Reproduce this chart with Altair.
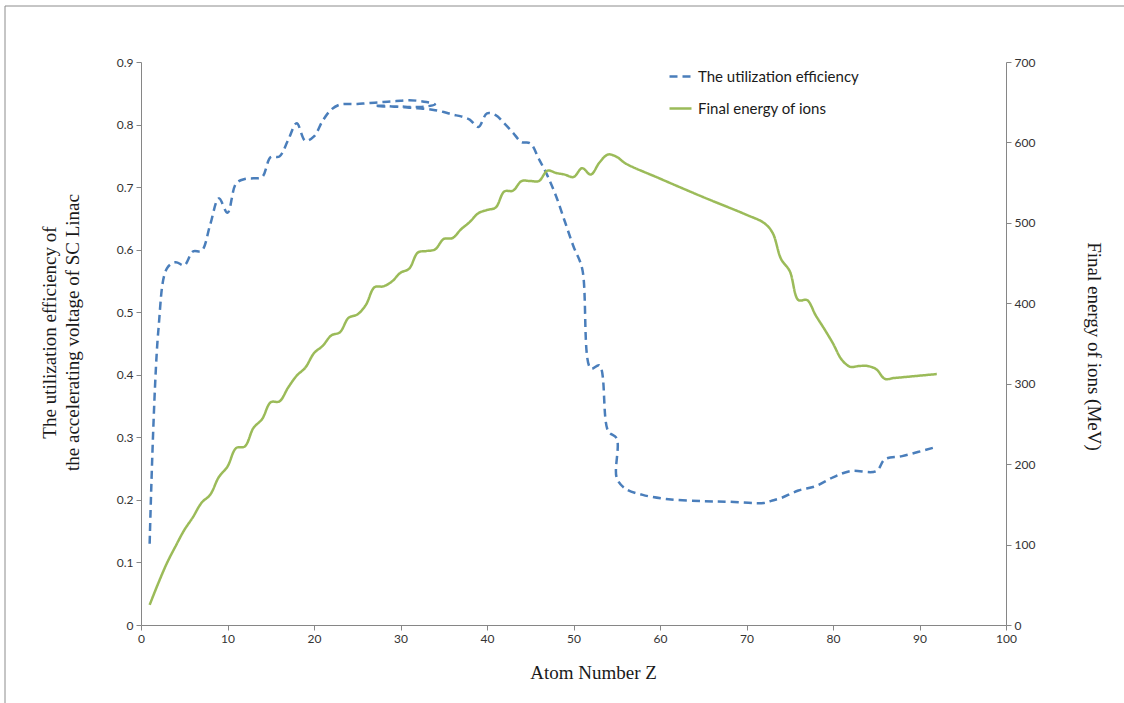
import altair as alt
import pandas as pd

# ---------------- data ----------------
eff_z = [1, 2, 3, 4, 5, 6, 7, 8, 9, 10, 11, 12, 13, 14, 15, 16, 17, 18, 19, 20,
         21, 22, 23, 24, 25, 26, 27, 28, 29, 30, 31, 32, 33, 34,
         33, 32, 31, 30, 29, 28, 27,
         28, 29, 30, 31, 32, 33, 34, 35, 36, 37, 38, 39, 40, 41, 42, 43, 44, 45,
         46, 47, 48, 49, 50, 51, 52, 53, 54, 55, 55, 56, 58, 61, 65, 68, 72, 73,
         74, 76, 78, 80, 82, 85, 86, 88, 92]
eff_val = [0.13, 0.47, 0.57, 0.58, 0.575, 0.597, 0.598, 0.64, 0.682, 0.659,
           0.706, 0.713, 0.714, 0.716, 0.748, 0.749, 0.775, 0.802, 0.774, 0.781,
           0.806, 0.824, 0.832, 0.833, 0.833, 0.834, 0.835, 0.836, 0.837, 0.838,
           0.839, 0.838, 0.836, 0.832,
           0.829, 0.828, 0.828, 0.829, 0.829, 0.830, 0.830,
           0.829, 0.829, 0.828, 0.827, 0.826, 0.825, 0.823, 0.82, 0.816, 0.813,
           0.808, 0.796, 0.818, 0.815, 0.802, 0.787, 0.772, 0.77,
           0.745, 0.718, 0.685, 0.645, 0.605, 0.57, 0.41, 0.415, 0.31, 0.298,
           0.235, 0.218, 0.208, 0.201, 0.198, 0.197, 0.195, 0.199,
           0.203, 0.215, 0.222, 0.236, 0.246, 0.246, 0.265, 0.27, 0.285]

energy_z = list(range(1, 57)) + [60, 65, 70, 72, 73, 74, 75, 76, 77, 78, 79, 80,
                                  81, 82, 83, 84, 85, 86, 87, 88, 92]
energy_val = [25, 52, 77, 98, 118, 134, 152, 162, 184, 197, 220, 222, 245, 256,
              277, 278, 295, 310, 320, 338, 347, 360, 364, 382, 386, 398, 420,
              421, 427, 438, 443, 463, 465, 467, 480, 481, 492, 501, 512, 516,
              519, 539, 540, 552, 552, 552, 565, 562, 560, 557, 568, 560, 575,
              585, 582, 574, 555, 532, 510, 500, 488, 455, 440, 404, 404, 385,
              368, 350, 330, 321, 322, 322, 318, 306, 307, 308, 312]

series_names = ["The utilization efficiency", "Final energy of ions"]
series_colors = ["#4A7EBB", "#9BBB59"]
series_dash = [[8, 5], [1, 0]]

x_ticks = list(range(0, 101, 10))
left_ticks = [0, 0.1, 0.2, 0.3, 0.4, 0.5, 0.6, 0.7, 0.8, 0.9]
right_ticks = list(range(0, 701, 100))

eff_df = pd.DataFrame({"Z": eff_z, "value": eff_val,
                       "order": list(range(len(eff_z))),
                       "series": series_names[0]})
en_df = pd.DataFrame({"Z": energy_z, "value": energy_val,
                      "order": list(range(len(energy_z))),
                      "series": series_names[1]})

W, H = 865, 563
serif = "Liberation Serif"
sans = "Lato"
axis_grey = "#868686"


def make_legend():
    return alt.Legend(title=None, orient="none", legendX=527, legendY=2,
                      symbolType="stroke", symbolSize=484,
                      symbolStrokeWidth=2.5, labelFont=sans, labelFontSize=15,
                      labelColor="#1a1a1a", rowPadding=11, labelOffset=5,
                      labelLimit=0)


color_enc = alt.Color("series:N",
                      scale=alt.Scale(domain=series_names, range=series_colors),
                      legend=make_legend())
dash_enc = alt.StrokeDash("series:N",
                          scale=alt.Scale(domain=series_names, range=series_dash),
                          legend=make_legend())

x_enc = alt.X("Z:Q", scale=alt.Scale(domain=[0, 100], nice=False),
              axis=alt.Axis(values=x_ticks, title="Atom Number Z",
                            labelFlush=False,
                            titleX=452, titleY=53, titleBaseline="alphabetic",
                            titleAlign="center"))

eff_line = alt.Chart(eff_df).mark_line(
    interpolate="catmull-rom", strokeWidth=2.5
).encode(
    x=x_enc,
    y=alt.Y("value:Q", scale=alt.Scale(domain=[0, 0.9], nice=False),
            axis=alt.Axis(values=left_ticks, format=".1~f",
                          title=["The utilization efficiency of",
                                 "the accelerating voltage of SC Linac"],
                          titleX=-92, titleY=270, titleAlign="center",
                          titleBaseline="middle", titleLineHeight=23)),
    order="order:Q",
    color=color_enc,
    strokeDash=dash_enc,
)

en_line = alt.Chart(en_df).mark_line(
    interpolate="catmull-rom", strokeWidth=2.5
).encode(
    x=alt.X("Z:Q", scale=alt.Scale(domain=[0, 100], nice=False)),
    y=alt.Y("value:Q", scale=alt.Scale(domain=[0, 700], nice=False),
            axis=alt.Axis(values=right_ticks, orient="right",
                          title="Final energy of ions (MeV)",
                          titleX=87, titleY=284, titleAlign="center",
                          titleBaseline="middle")),
    order="order:Q",
    color=color_enc,
    strokeDash=dash_enc,
)

frame = alt.Chart(pd.DataFrame({"a": [0]})).mark_rect(
    fill="transparent", stroke="#8c8c8c", strokeWidth=1
).encode(
    x=alt.value(-136), x2=alt.value(W + 140),
    y=alt.value(-56), y2=alt.value(H + 100),
)

chart = alt.layer(frame, eff_line, en_line).resolve_scale(
    y="independent"
).properties(
    width=W, height=H,
    autosize=alt.AutoSizeParams(type="none"),
    padding={"left": 141, "top": 62, "right": 118, "bottom": 78},
    background="white",
).configure_view(
    stroke=None
).configure_axis(
    grid=False,
    domainColor=axis_grey,
    tickColor=axis_grey,
    tickSize=5,
    labelFont=sans,
    labelFontSize=12,
    labelColor="#333333",
    labelPadding=3,
    titleFont=serif,
    titleFontSize=19,
    titleFontWeight="normal",
    titleColor="#1a1a1a",
)

chart.save("out.html", embed_options={"renderer": "svg", "actions": False})
